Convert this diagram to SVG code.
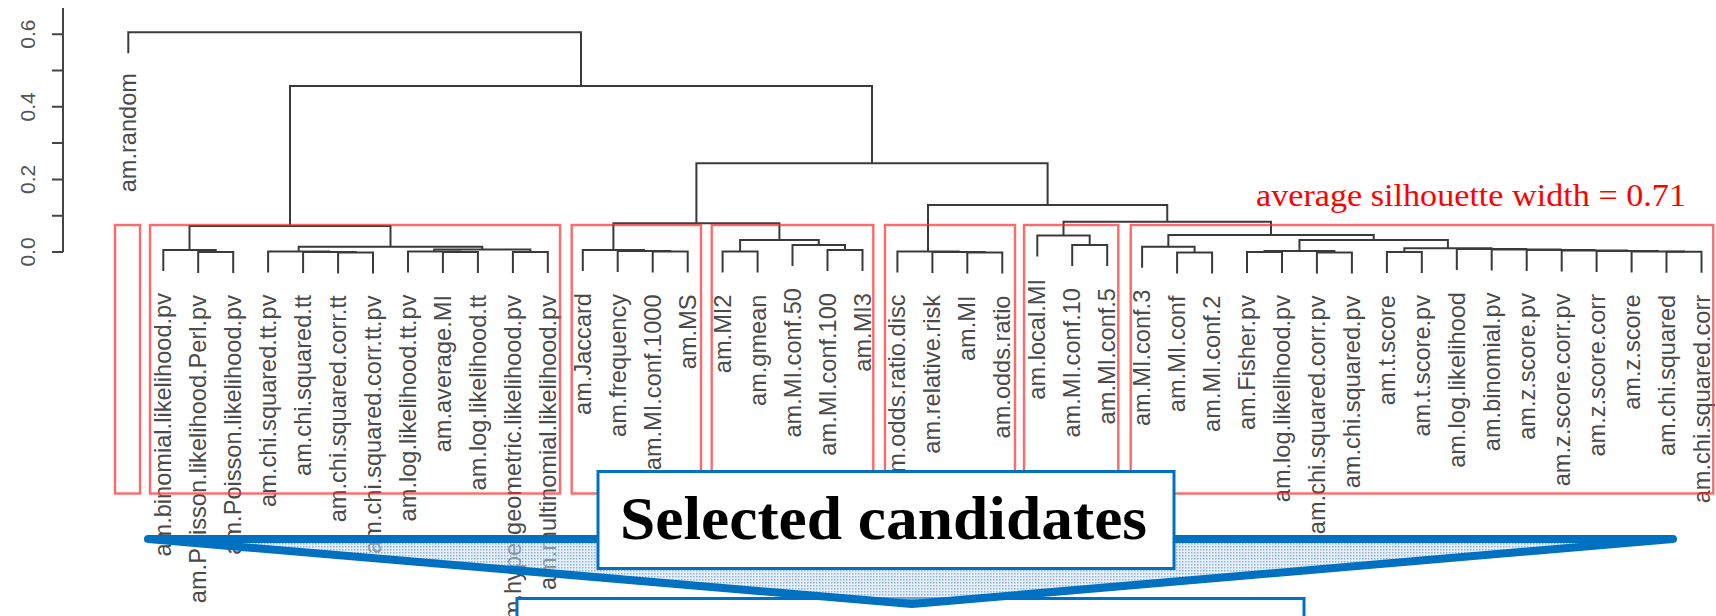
<svg xmlns="http://www.w3.org/2000/svg" width="1716" height="616" viewBox="0 0 1716 616">
<style>
.bg{fill:#ffffff}
.ax{stroke:#444;stroke-width:2;fill:none}
.axl{font-family:"Liberation Sans",Arial,sans-serif;font-size:21px;fill:#555;text-anchor:middle}
.den{stroke:#3a3a3a;stroke-width:2;fill:none}
.lf{font-family:"Liberation Sans",Arial,sans-serif;font-size:23.6px;fill:#4a4a4a;text-anchor:end}
.rb{fill:none;stroke:#ff2a2a;stroke-opacity:0.7;stroke-width:2.4}
.bb{fill:#ffffff;stroke:#0070C0;stroke-width:3}
.sil{font-family:"Liberation Serif","Times New Roman",serif;font-size:31px;fill:#ff0000}
.sel{font-family:"Liberation Serif","Times New Roman",serif;font-size:61px;font-weight:bold;fill:#000}
</style>
<defs>
<pattern id="dots" width="3" height="3" patternUnits="userSpaceOnUse">
<rect width="3" height="3" fill="#cfe0f3" fill-opacity="0.5"/>
<rect width="1.5" height="1.5" fill="#6f9fd6" fill-opacity="0.75"/>
</pattern>
</defs>
<rect class="bg" x="0" y="0" width="1716" height="616"/>

<g id="axis">
<path class="ax" d="M63,8 V252 M52,252 H63 M52,215.7 H63 M52,179.4 H63 M52,143.1 H63 M52,106.8 H63 M52,70.5 H63 M52,34.2 H63"/>
<text class="axl" transform="translate(35,252) rotate(-90)">0.0</text>
<text class="axl" transform="translate(35,179.4) rotate(-90)">0.2</text>
<text class="axl" transform="translate(35,106.8) rotate(-90)">0.4</text>
<text class="axl" transform="translate(35,34.2) rotate(-90)">0.6</text>
</g>

<g id="connectors" class="den">
<path d="M198.2,273 V252 H233.2 V273"/>
<path d="M163.3,271 V250 H215.7 V252"/>
<path d="M338.1,273.5 V252.5 H373 V273.5"/>
<path d="M303.1,273 V252 H355.55 V252.5"/>
<path d="M268.1,272.5 V251.5 H329.3 V252"/>
<path d="M442.9,273 V252 H477.9 V273"/>
<path d="M408,272.5 V251.5 H460.4 V252"/>
<path d="M512.9,273 V252 H547.8 V273"/>
<path d="M434.2,251.5 V249.5 H530.35 V252"/>
<path d="M298.7,251.5 V246.7 H482.3 V249.5"/>
<path d="M189.5,250 V226 H390.5 V246.7"/>
<path d="M652.7,272.5 V251.5 H687.7 V272.5"/>
<path d="M617.7,272 V251 H670.2 V251.5"/>
<path d="M582.8,271 V250 H643.95 V251"/>
<path d="M722.6,272.5 V251.5 H757.6 V272.5"/>
<path d="M827.5,271 V250 H862.5 V271"/>
<path d="M792.5,266 V245 H845 V250"/>
<path d="M740.1,251.5 V240 H818.75 V245"/>
<path d="M613.4,250 V223.3 H779.4 V240"/>
<path d="M967.3,273.5 V252.5 H1002.3 V273.5"/>
<path d="M932.4,273 V252 H984.8 V252.5"/>
<path d="M897.4,272.5 V251.5 H958.6 V252"/>
<path d="M1072.2,266 V245 H1107.2 V266"/>
<path d="M1037.3,256.5 V235.5 H1089.7 V245"/>
<path d="M1177.1,273.5 V252.5 H1212.1 V273.5"/>
<path d="M1142.1,267.7 V246.7 H1194.6 V252.5"/>
<path d="M1247,273 V252 H1282 V273"/>
<path d="M1316.9,273.5 V252.5 H1351.9 V273.5"/>
<path d="M1264.5,252 V251 H1334.4 V252.5"/>
<path d="M1386.9,273 V252 H1421.8 V273"/>
<path d="M1666.5,272.8 V251.8 H1701.5 V272.8"/>
<path d="M1631.6,272.4 V251.4 H1684 V251.8"/>
<path d="M1596.6,272 V251 H1657.8 V251.4"/>
<path d="M1561.7,271.5 V250.5 H1627.2 V251"/>
<path d="M1526.7,271 V250 H1594.45 V250.5"/>
<path d="M1491.7,270.5 V249.5 H1560.6 V250"/>
<path d="M1456.8,270 V249 H1526.15 V249.5"/>
<path d="M1404.35,252 V248.3 H1491.5 V249"/>
<path d="M1299.45,251 V240 H1447.9 V248.3"/>
<path d="M1168.35,246.7 V235 H1373.7 V240"/>
<path d="M1063.5,235.5 V221.7 H1271 V235"/>
<path d="M928,251.5 V205 H1167.25 V221.7"/>
<path d="M696.4,223.3 V163.3 H1047.6 V205"/>
<path d="M290,226 V86 H872 V163.3"/>
<path d="M128.3,53.3 V32.3 H581 V86"/>
</g>

<g id="leaves">
<text class="lf" transform="translate(136.3,73) rotate(-90)">am.random</text>
<text class="lf" transform="translate(171.3,293) rotate(-90)">am.binomial.likelihood.pv</text>
<text class="lf" transform="translate(206.2,295) rotate(-90)">am.Poisson.likelihood.Perl.pv</text>
<text class="lf" transform="translate(241.2,295) rotate(-90)">am.Poisson.likelihood.pv</text>
<text class="lf" transform="translate(276.1,294.5) rotate(-90)">am.chi.squared.tt.pv</text>
<text class="lf" transform="translate(311.1,295) rotate(-90)">am.chi.squared.tt</text>
<text class="lf" transform="translate(346.1,295.5) rotate(-90)">am.chi.squared.corr.tt</text>
<text class="lf" transform="translate(381,295.5) rotate(-90)">am.chi.squared.corr.tt.pv</text>
<text class="lf" transform="translate(416,294.5) rotate(-90)">am.log.likelihood.tt.pv</text>
<text class="lf" transform="translate(450.9,295) rotate(-90)">am.average.MI</text>
<text class="lf" transform="translate(485.9,295) rotate(-90)">am.log.likelihood.tt</text>
<text class="lf" transform="translate(520.9,295) rotate(-90)">am.hypergeometric.likelihood.pv</text>
<text class="lf" transform="translate(555.8,295) rotate(-90)">am.multinomial.likelihood.pv</text>
<text class="lf" transform="translate(590.8,293) rotate(-90)">am.Jaccard</text>
<text class="lf" transform="translate(625.7,294) rotate(-90)">am.frequency</text>
<text class="lf" transform="translate(660.7,294.5) rotate(-90)">am.MI.conf.1000</text>
<text class="lf" transform="translate(695.7,294.5) rotate(-90)">am.MS</text>
<text class="lf" transform="translate(730.6,294.5) rotate(-90)">am.MI2</text>
<text class="lf" transform="translate(765.6,294.5) rotate(-90)">am.gmean</text>
<text class="lf" transform="translate(800.5,288) rotate(-90)">am.MI.conf.50</text>
<text class="lf" transform="translate(835.5,293) rotate(-90)">am.MI.conf.100</text>
<text class="lf" transform="translate(870.5,293) rotate(-90)">am.MI3</text>
<text class="lf" transform="translate(905.4,294.5) rotate(-90)">am.odds.ratio.disc</text>
<text class="lf" transform="translate(940.4,295) rotate(-90)">am.relative.risk</text>
<text class="lf" transform="translate(975.3,295.5) rotate(-90)">am.MI</text>
<text class="lf" transform="translate(1010.3,295.5) rotate(-90)">am.odds.ratio</text>
<text class="lf" transform="translate(1045.3,279) rotate(-90)">am.local.MI</text>
<text class="lf" transform="translate(1080.2,288) rotate(-90)">am.MI.conf.10</text>
<text class="lf" transform="translate(1115.2,288) rotate(-90)">am.MI.conf.5</text>
<text class="lf" transform="translate(1150.1,289.7) rotate(-90)">am.MI.conf.3</text>
<text class="lf" transform="translate(1185.1,295.5) rotate(-90)">am.MI.conf</text>
<text class="lf" transform="translate(1220.1,295.5) rotate(-90)">am.MI.conf.2</text>
<text class="lf" transform="translate(1255,295) rotate(-90)">am.Fisher.pv</text>
<text class="lf" transform="translate(1290,295) rotate(-90)">am.log.likelihood.pv</text>
<text class="lf" transform="translate(1324.9,295.5) rotate(-90)">am.chi.squared.corr.pv</text>
<text class="lf" transform="translate(1359.9,295.5) rotate(-90)">am.chi.squared.pv</text>
<text class="lf" transform="translate(1394.9,295) rotate(-90)">am.t.score</text>
<text class="lf" transform="translate(1429.8,295) rotate(-90)">am.t.score.pv</text>
<text class="lf" transform="translate(1464.8,292) rotate(-90)">am.log.likelihood</text>
<text class="lf" transform="translate(1499.7,292.5) rotate(-90)">am.binomial.pv</text>
<text class="lf" transform="translate(1534.7,293) rotate(-90)">am.z.score.pv</text>
<text class="lf" transform="translate(1569.7,293.5) rotate(-90)">am.z.score.corr.pv</text>
<text class="lf" transform="translate(1604.6,294) rotate(-90)">am.z.score.corr</text>
<text class="lf" transform="translate(1639.6,294.4) rotate(-90)">am.z.score</text>
<text class="lf" transform="translate(1674.5,294.8) rotate(-90)">am.chi.squared</text>
<text class="lf" transform="translate(1709.5,294.8) rotate(-90)">am.chi.squared.corr</text>
</g>

<g id="clusters">
<rect class="rb" x="115" y="225" width="25" height="268.5"/>
<rect class="rb" x="150" y="225" width="410" height="268.5"/>
<rect class="rb" x="571.7" y="225" width="129.3" height="268.5"/>
<rect class="rb" x="711.7" y="225" width="161.6" height="268.5"/>
<rect class="rb" x="885" y="225" width="130" height="268.5"/>
<rect class="rb" x="1024" y="225" width="94.3" height="268.5"/>
<rect class="rb" x="1130.7" y="225" width="582.6" height="268.5"/>
</g>

<g id="silhouette">
<text class="sil" x="1256" y="206" textLength="430" lengthAdjust="spacingAndGlyphs">average silhouette width = 0.71</text>
</g>

<g id="lower-box">
<rect class="bb" x="517" y="598.5" width="787" height="40"/>
</g>

<g id="funnel">
<path d="M148,539 L1673,539 L912,604 Z" fill="url(#dots)" stroke="#0070C0" stroke-width="8" stroke-linejoin="round" stroke-linecap="round"/>
</g>

<g id="selected-candidates">
<rect class="bb" x="598" y="471.5" width="576" height="97"/>
<text class="sel" x="883.5" y="538.5" text-anchor="middle" textLength="527" lengthAdjust="spacingAndGlyphs">Selected candidates</text>
</g>
</svg>
